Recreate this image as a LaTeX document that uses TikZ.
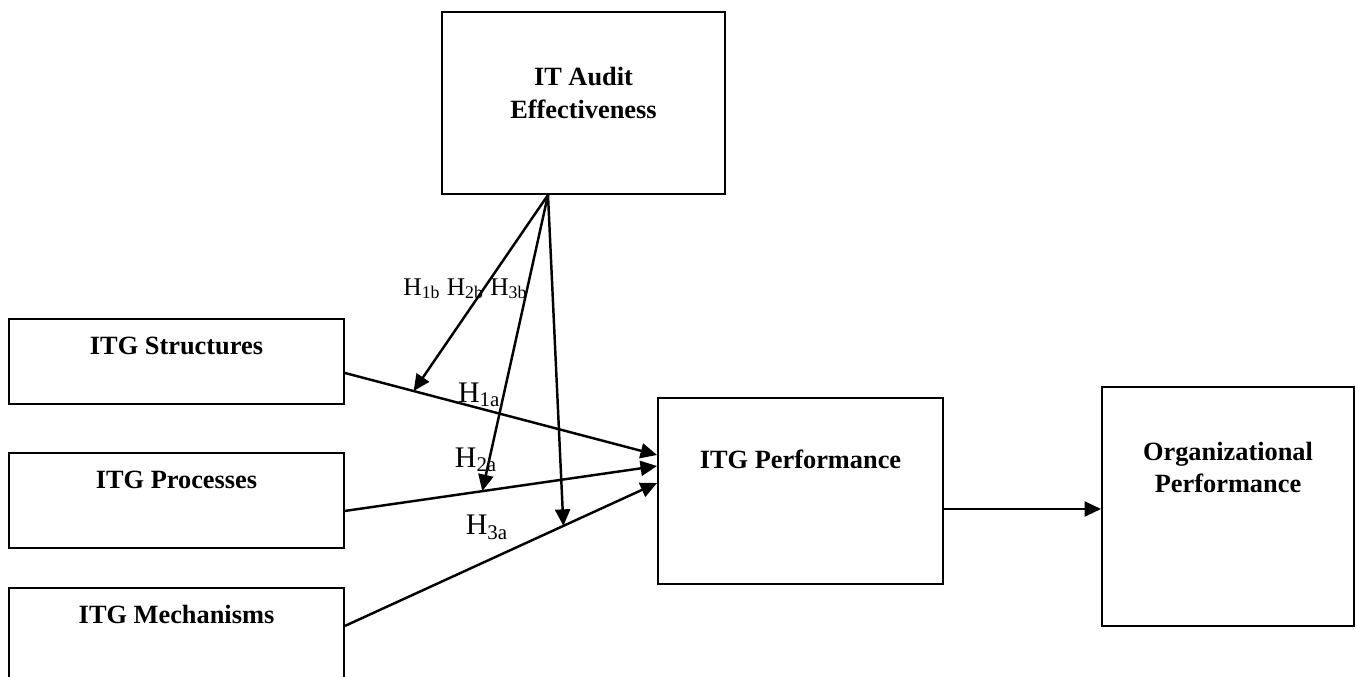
\documentclass[tikz,border=0pt]{standalone}
\usepackage{fontspec}
\setmainfont{Liberation Serif}
\usetikzlibrary{positioning,calc,arrows.meta}

\begin{document}
\begin{tikzpicture}[
    box/.style={draw, line width=1.1pt, minimum width=6.70cm, inner sep=0pt},
    title/.style={anchor=center, align=center, font=\fontsize{15}{18.5}\selectfont\bfseries},
    link/.style={-{Triangle[length=0.33cm, width=0.30cm]}, line width=1.4pt},
    hyp/.style={inner sep=0pt, font=\fontsize{17}{20}\selectfont}
  ]
  \useasboundingbox (0,0) rectangle (27.12,-13.54);

  \node[box, minimum width=5.66cm, minimum height=3.64cm,
        label={[title, yshift=-1.64cm]north:IT Audit\\Effectiveness}] (audit) at (11.67,-2.06) {};

  \node[box, minimum height=1.70cm, label={[title, yshift=-0.56cm]north:ITG Structures}] (struct) at (3.53,-7.23) {};
  \node[box, minimum height=1.90cm, below=0.94cm of struct,
        label={[title, yshift=-0.56cm]north:ITG Processes}] (proc) {};
  \node[box, minimum height=2.40cm, below=0.76cm of proc,
        label={[title, yshift=-0.56cm]north:ITG Mechanisms}] (mech) {};

  \node[box, minimum width=5.70cm, minimum height=3.72cm,
        label={[title, yshift=-1.24cm]north:ITG Performance}] (perf) at (16.01,-9.82) {};
  \node[box, minimum width=5.04cm, minimum height=4.78cm,
        label={[title, yshift=-1.63cm]north:Organizational\\Performance}] (org) at (24.56,-10.13) {};

  \coordinate (s1) at ($(struct.east)+(0,-0.23)$);
  \coordinate (s2) at ($(proc.east)+(0,-0.21)$);
  \coordinate (s3) at ($(mech.north east)+(0,-0.78)$);
  \coordinate (t1) at ($(perf.west)+(0,0.72)$);
  \coordinate (t2) at ($(perf.west)+(0,0.50)$);
  \coordinate (t3) at ($(perf.west)+(0,0.16)$);
  \coordinate (src) at ($(audit.south)+(-0.71,0)$);

  \draw[link] (s1) -- node[hyp, above, pos=0.43] (h1a) {H\textsubscript{1a}} (t1);
  \draw[link] (s2) -- node[hyp, above=0.38cm, pos=0.42] (h2a) {H\textsubscript{2a}} (t2);
  \draw[link] (s3) -- node[hyp, above=0.40cm, pos=0.455] (h3a) {H\textsubscript{3a}} (t3);

  \coordinate (m1) at ($(s1)!0.22!(t1)$);
  \coordinate (m2) at ($(s2)!0.44!(t2)$);
  \coordinate (m3) at ($(s3)!0.70!(t3)$);
  \draw[link] (src) -- (m1);
  \draw[link] (src) -- (m2);
  \draw[link] (src) -- (m3);
  \node[hyp, anchor=base west, font=\fontsize{14.5}{17}\selectfont] (h1b) at (8.06,-5.90)
    {H\textsubscript{1b} H\textsubscript{2b} H\textsubscript{3b}};

  \draw[link] ([yshift=-0.36cm]perf.east) -- ([yshift=-0.05cm]org.west);
\end{tikzpicture}
\end{document}
